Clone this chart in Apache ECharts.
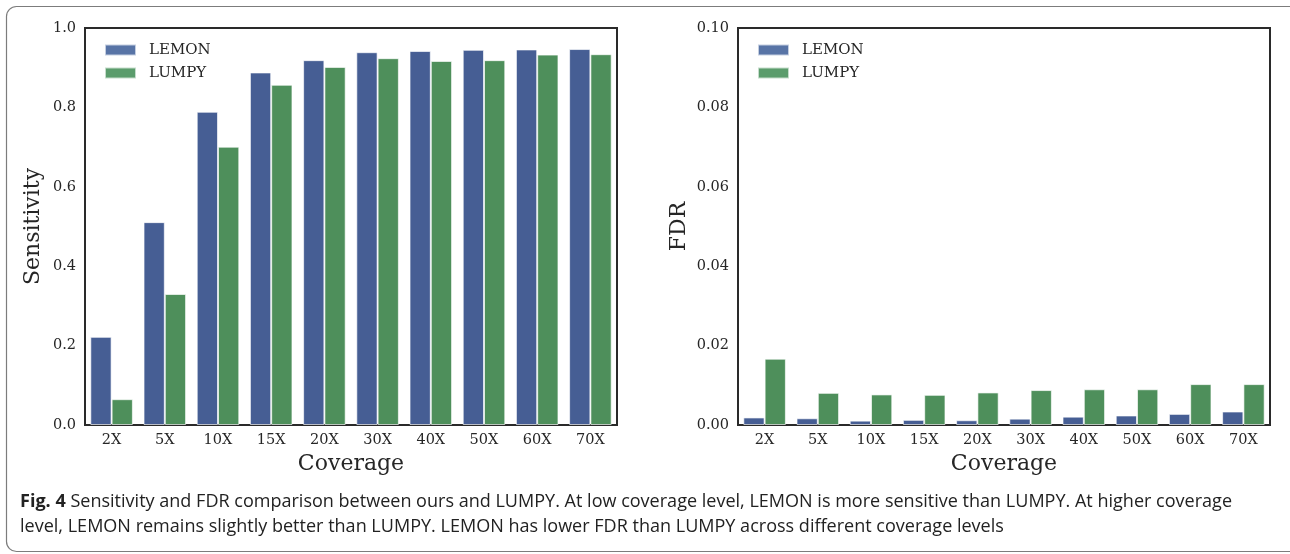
<!DOCTYPE html>
<html>
<head>
<meta charset="utf-8">
<script src="https://cdn.jsdelivr.net/npm/echarts@6/dist/echarts.min.js"></script>
<style>
  html, body { margin: 0; padding: 0; background: #ffffff; }
  #chart { width: 1290px; height: 554px; }
</style>
</head>
<body>
<div id="chart"></div>
<script>
// Coverage levels along the x axis of both panels
const categories = ['2X', '5X', '10X', '15X', '20X', '30X', '40X', '50X', '60X', '70X'];

// Sensitivity per coverage level
const sensLemon = [0.222, 0.511, 0.789, 0.888, 0.919, 0.939, 0.942, 0.945, 0.946, 0.947];
const sensLumpy = [0.065, 0.330, 0.701, 0.857, 0.902, 0.924, 0.917, 0.919, 0.933, 0.934];

// False discovery rate per coverage level
const fdrLemon = [0.0019, 0.0017, 0.0011, 0.0013, 0.0012, 0.0016, 0.0021, 0.0024, 0.0028, 0.0034];
const fdrLumpy = [0.0167, 0.0081, 0.0077, 0.0076, 0.0082, 0.0088, 0.0090, 0.0090, 0.0103, 0.0103];

// Caption lines
const captionLine1 = 'Sensitivity and FDR comparison between ours and LUMPY. At low coverage level, LEMON is more sensitive than LUMPY. At higher coverage';
const captionLine2 = 'level, LEMON remains slightly better than LUMPY. LEMON has lower FDR than LUMPY across different coverage levels';

const SERIF = '"DejaVu Serif", serif';
const SANS = '"Open Sans", "Noto Sans", sans-serif';
const TEXT = '#262626';
const BLUE = '#465e94';
const GREEN = '#4e8f5b';
const BLUE_KEY = '#5874a6';
const GREEN_KEY = '#5b9c6c';

// Fit the caption's first line to the text block width
const capSize = 17.5;
const ctx = document.createElement('canvas').getContext('2d');
ctx.font = 'bold ' + capSize + 'px ' + SANS;
let w1 = ctx.measureText('Fig. 4').width;
ctx.font = capSize + 'px ' + SANS;
w1 += ctx.measureText(' ' + captionLine1).width;
const capScale = 1212 / w1;

const chart = echarts.init(document.getElementById('chart'), null, { renderer: 'canvas' });

function gridDef(left) {
  return {
    left: left, top: 28, width: 532, height: 397,
    show: true, borderColor: '#2a2a2a', borderWidth: 2, backgroundColor: 'transparent'
  };
}

function xAxisDef(idx) {
  return {
    type: 'category', gridIndex: idx, data: categories,
    name: 'Coverage', nameLocation: 'middle', nameGap: 28,
    nameTextStyle: { fontFamily: SERIF, fontSize: 22, color: TEXT },
    axisLine: { show: false }, axisTick: { show: false }, splitLine: { show: false },
    axisLabel: { margin: 8, fontFamily: SERIF, fontSize: 14.5, color: TEXT }
  };
}

function yAxisDef(idx, name, max, interval, digits, gap) {
  return {
    type: 'value', gridIndex: idx, min: 0, max: max, interval: interval,
    name: name, nameLocation: 'middle', nameGap: gap,
    nameTextStyle: { fontFamily: SERIF, fontSize: 22, color: TEXT },
    axisLine: { show: false }, axisTick: { show: false }, splitLine: { show: false },
    axisLabel: {
      margin: 9, fontFamily: SERIF, fontSize: 14.5, color: TEXT,
      formatter: v => v.toFixed(digits)
    }
  };
}

function legendDef(left) {
  return {
    orient: 'vertical', left: left, top: 37.5, itemWidth: 31, itemHeight: 11, itemGap: 8,
    icon: 'rect', selectedMode: false,
    textStyle: { fontFamily: SERIF, fontSize: 15, color: TEXT, padding: [0, 0, 0, 8] },
    data: [
      { name: 'LEMON', itemStyle: { color: BLUE_KEY } },
      { name: 'LUMPY', itemStyle: { color: GREEN_KEY } }
    ]
  };
}

function barDef(name, data, idx, color) {
  return {
    name: name, type: 'bar', xAxisIndex: idx, yAxisIndex: idx, data: data,
    barGap: '0%', barCategoryGap: '20%',
    itemStyle: { color: color, borderColor: 'rgba(255,255,255,0.65)', borderWidth: 1 },
    emphasis: { disabled: true }, animation: false
  };
}

chart.setOption({
  animation: false,
  backgroundColor: '#ffffff',
  grid: [gridDef(85), gridDef(738)],
  xAxis: [xAxisDef(0), xAxisDef(1)],
  yAxis: [
    yAxisDef(0, 'Sensitivity', 1.0, 0.2, 1, 41),
    yAxisDef(1, 'FDR', 0.10, 0.02, 2, 48)
  ],
  legend: [legendDef(99), legendDef(752)],
  series: [
    barDef('LEMON', sensLemon, 0, BLUE),
    barDef('LUMPY', sensLumpy, 0, GREEN),
    barDef('LEMON', fdrLemon, 1, BLUE),
    barDef('LUMPY', fdrLumpy, 1, GREEN)
  ],
  graphic: [
    {
      type: 'rect', silent: true,
      shape: { x: 6.5, y: 6.5, width: 1320, height: 545, r: 10 },
      style: { fill: 'none', stroke: '#7c7c7c', lineWidth: 1.2 }
    },
    {
      type: 'text', silent: true, x: 20, y: 502, scaleX: capScale,
      style: {
        text: '{b|Fig. 4} ' + captionLine1,
        font: capSize + 'px ' + SANS,
        fill: '#222222', verticalAlign: 'middle',
        rich: { b: { fontWeight: 'bold', fontSize: capSize, fontFamily: SANS, fill: '#222222' } }
      }
    },
    {
      type: 'text', silent: true, x: 20, y: 527, scaleX: capScale,
      style: {
        text: captionLine2,
        font: capSize + 'px ' + SANS,
        fill: '#222222', verticalAlign: 'middle'
      }
    }
  ]
});
</script>
</body>
</html>
